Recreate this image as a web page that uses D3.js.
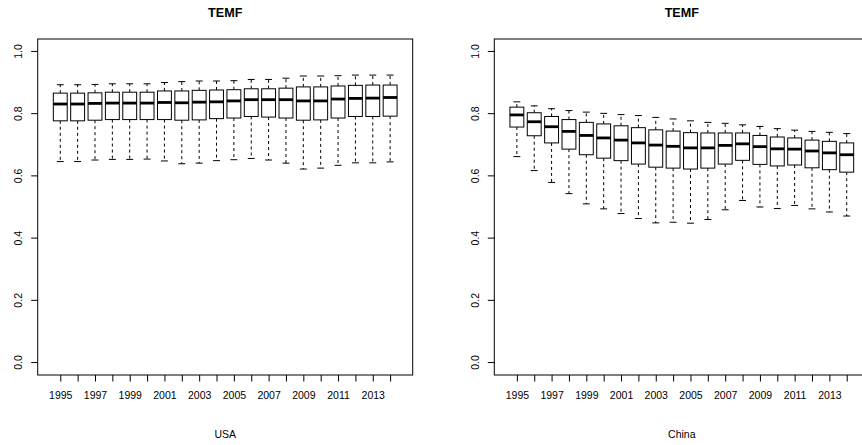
<!DOCTYPE html>
<html>
<head>
<meta charset="utf-8">
<script src="https://cdn.jsdelivr.net/npm/d3@7"></script>
<style>
  body { margin: 0; background: #fff; }
  svg { display: block; font-family: "Liberation Sans", Arial, Helvetica, sans-serif; }
</style>
</head>
<body>
<div id="chart"></div>
<script>
const years = d3.range(1995, 2015);
const yTicks = [0, 0.2, 0.4, 0.6, 0.8, 1.0];

// USA: lower whisker, Q1, median, Q3, upper whisker
const usaLow = [0.646, 0.646, 0.651, 0.653, 0.653, 0.654, 0.648, 0.639, 0.641, 0.649,
                0.652, 0.656, 0.651, 0.641, 0.622, 0.625, 0.634, 0.642, 0.642, 0.645];
const usaQ1 = [0.777, 0.777, 0.779, 0.781, 0.781, 0.781, 0.781, 0.779, 0.780, 0.784,
               0.786, 0.791, 0.789, 0.786, 0.779, 0.780, 0.786, 0.791, 0.791, 0.792];
const usaMed = [0.831, 0.831, 0.833, 0.834, 0.834, 0.834, 0.836, 0.835, 0.837, 0.838,
                0.841, 0.845, 0.845, 0.845, 0.841, 0.841, 0.847, 0.849, 0.850, 0.852];
const usaQ3 = [0.866, 0.866, 0.867, 0.869, 0.869, 0.869, 0.873, 0.873, 0.875, 0.876,
               0.877, 0.880, 0.880, 0.882, 0.886, 0.886, 0.889, 0.891, 0.892, 0.892];
const usaHigh = [0.893, 0.893, 0.894, 0.896, 0.896, 0.896, 0.900, 0.903, 0.905, 0.905,
                 0.906, 0.910, 0.910, 0.914, 0.921, 0.921, 0.922, 0.924, 0.924, 0.924];

// China
const chnLow = [0.662, 0.617, 0.579, 0.543, 0.510, 0.494, 0.479, 0.463, 0.449, 0.451,
                0.448, 0.460, 0.491, 0.521, 0.500, 0.495, 0.505, 0.494, 0.484, 0.471];
const chnQ1 = [0.757, 0.729, 0.706, 0.686, 0.668, 0.657, 0.649, 0.638, 0.628, 0.625,
               0.622, 0.625, 0.638, 0.650, 0.637, 0.632, 0.635, 0.626, 0.620, 0.612];
const chnMed = [0.796, 0.774, 0.758, 0.743, 0.730, 0.722, 0.715, 0.706, 0.699, 0.695,
                0.690, 0.690, 0.698, 0.703, 0.694, 0.687, 0.686, 0.680, 0.674, 0.668];
const chnQ3 = [0.821, 0.803, 0.791, 0.781, 0.772, 0.767, 0.761, 0.755, 0.748, 0.744,
               0.739, 0.738, 0.738, 0.738, 0.730, 0.725, 0.722, 0.715, 0.711, 0.706];
const chnHigh = [0.838, 0.825, 0.816, 0.810, 0.805, 0.801, 0.797, 0.794, 0.788, 0.783,
                 0.777, 0.772, 0.769, 0.764, 0.759, 0.752, 0.747, 0.743, 0.740, 0.736];

const W = 862, H = 445;
const svg = d3.select("#chart").append("svg")
    .attr("width", W)
    .attr("height", H);

function panel(left, title, xlab, low, q1, med, q3, high) {
    const right = left + 375;
    const top = 39, bottom = 375;
    const n = years.length;

    const x = d3.scaleLinear().domain([-0.3, n + 1.3]).range([left, right]);
    const y = d3.scaleLinear().domain([-0.04, 1.04]).range([bottom, top]);
    const bw = x(0.8) - x(0);

    const g = svg.append("g");

    // frame
    g.append("rect")
        .attr("x", left).attr("y", top)
        .attr("width", right - left).attr("height", bottom - top)
        .attr("fill", "none").attr("stroke", "#000").attr("stroke-width", 1);

    // y axis, labels rotated like R's default las=0
    const yAxis = g.append("g")
        .attr("transform", `translate(${left},0)`)
        .call(d3.axisLeft(y).tickValues(yTicks).tickSize(6.5).tickFormat(d3.format(".1f")));
    yAxis.select(".domain").remove();
    yAxis.selectAll(".tick").attr("transform", null);
    yAxis.selectAll(".tick line")
        .attr("y1", d => y(d)).attr("y2", d => y(d))
        .attr("stroke", "#000");
    yAxis.selectAll("text")
        .attr("x", null).attr("dy", null)
        .attr("transform", d => `translate(-15.7,${y(d)}) rotate(-90)`)
        .style("text-anchor", "middle")
        .style("font-size", "10.5px").attr("fill", "#000");

    // x axis: a tick per year, labels on every other one
    const xAxis = g.append("g")
        .attr("transform", `translate(0,${bottom})`)
        .call(d3.axisBottom(x).tickValues(d3.range(1, n + 1)).tickSize(6.5)
            .tickFormat((d, i) => i % 2 === 0 ? years[i] : ""));
    xAxis.select(".domain").remove();
    xAxis.selectAll("line").attr("stroke", "#000");
    xAxis.selectAll("text")
        .attr("y", 24).attr("dy", null)
        .style("font-size", "10.5px").attr("fill", "#000");

    // boxes
    const boxes = g.selectAll(".box")
        .data(years.map((yr, i) => ({ i: i + 1, low: low[i], q1: q1[i], med: med[i], q3: q3[i], high: high[i] })))
        .enter().append("g")
        .attr("class", "box");

    boxes.append("line")
        .attr("x1", d => x(d.i)).attr("x2", d => x(d.i))
        .attr("y1", d => y(d.q3)).attr("y2", d => y(d.high))
        .attr("stroke", "#000").attr("stroke-dasharray", "3,3");
    boxes.append("line")
        .attr("x1", d => x(d.i)).attr("x2", d => x(d.i))
        .attr("y1", d => y(d.q1)).attr("y2", d => y(d.low))
        .attr("stroke", "#000").attr("stroke-dasharray", "3,3");
    boxes.append("line")
        .attr("x1", d => x(d.i) - bw / 4).attr("x2", d => x(d.i) + bw / 4)
        .attr("y1", d => y(d.high)).attr("y2", d => y(d.high))
        .attr("stroke", "#000");
    boxes.append("line")
        .attr("x1", d => x(d.i) - bw / 4).attr("x2", d => x(d.i) + bw / 4)
        .attr("y1", d => y(d.low)).attr("y2", d => y(d.low))
        .attr("stroke", "#000");
    boxes.append("rect")
        .attr("x", d => x(d.i) - bw / 2)
        .attr("y", d => y(d.q3))
        .attr("width", bw)
        .attr("height", d => y(d.q1) - y(d.q3))
        .attr("fill", "#fff").attr("stroke", "#000").attr("stroke-width", 1);
    boxes.append("line")
        .attr("x1", d => x(d.i) - bw / 2).attr("x2", d => x(d.i) + bw / 2)
        .attr("y1", d => y(d.med)).attr("y2", d => y(d.med))
        .attr("stroke", "#000").attr("stroke-width", 2.8);

    const cx = (left + right) / 2;
    g.append("text")
        .attr("x", cx).attr("y", 17.3)
        .attr("text-anchor", "middle")
        .style("font-size", "12.6px").style("font-weight", "bold")
        .text(title);
    g.append("text")
        .attr("x", cx).attr("y", 438.3)
        .attr("text-anchor", "middle")
        .style("font-size", "10.5px")
        .text(xlab);
}

panel(37.7, "TEMF", "USA", usaLow, usaQ1, usaMed, usaQ3, usaHigh);
panel(494.3, "TEMF", "China", chnLow, chnQ1, chnMed, chnQ3, chnHigh);
</script>
</body>
</html>
